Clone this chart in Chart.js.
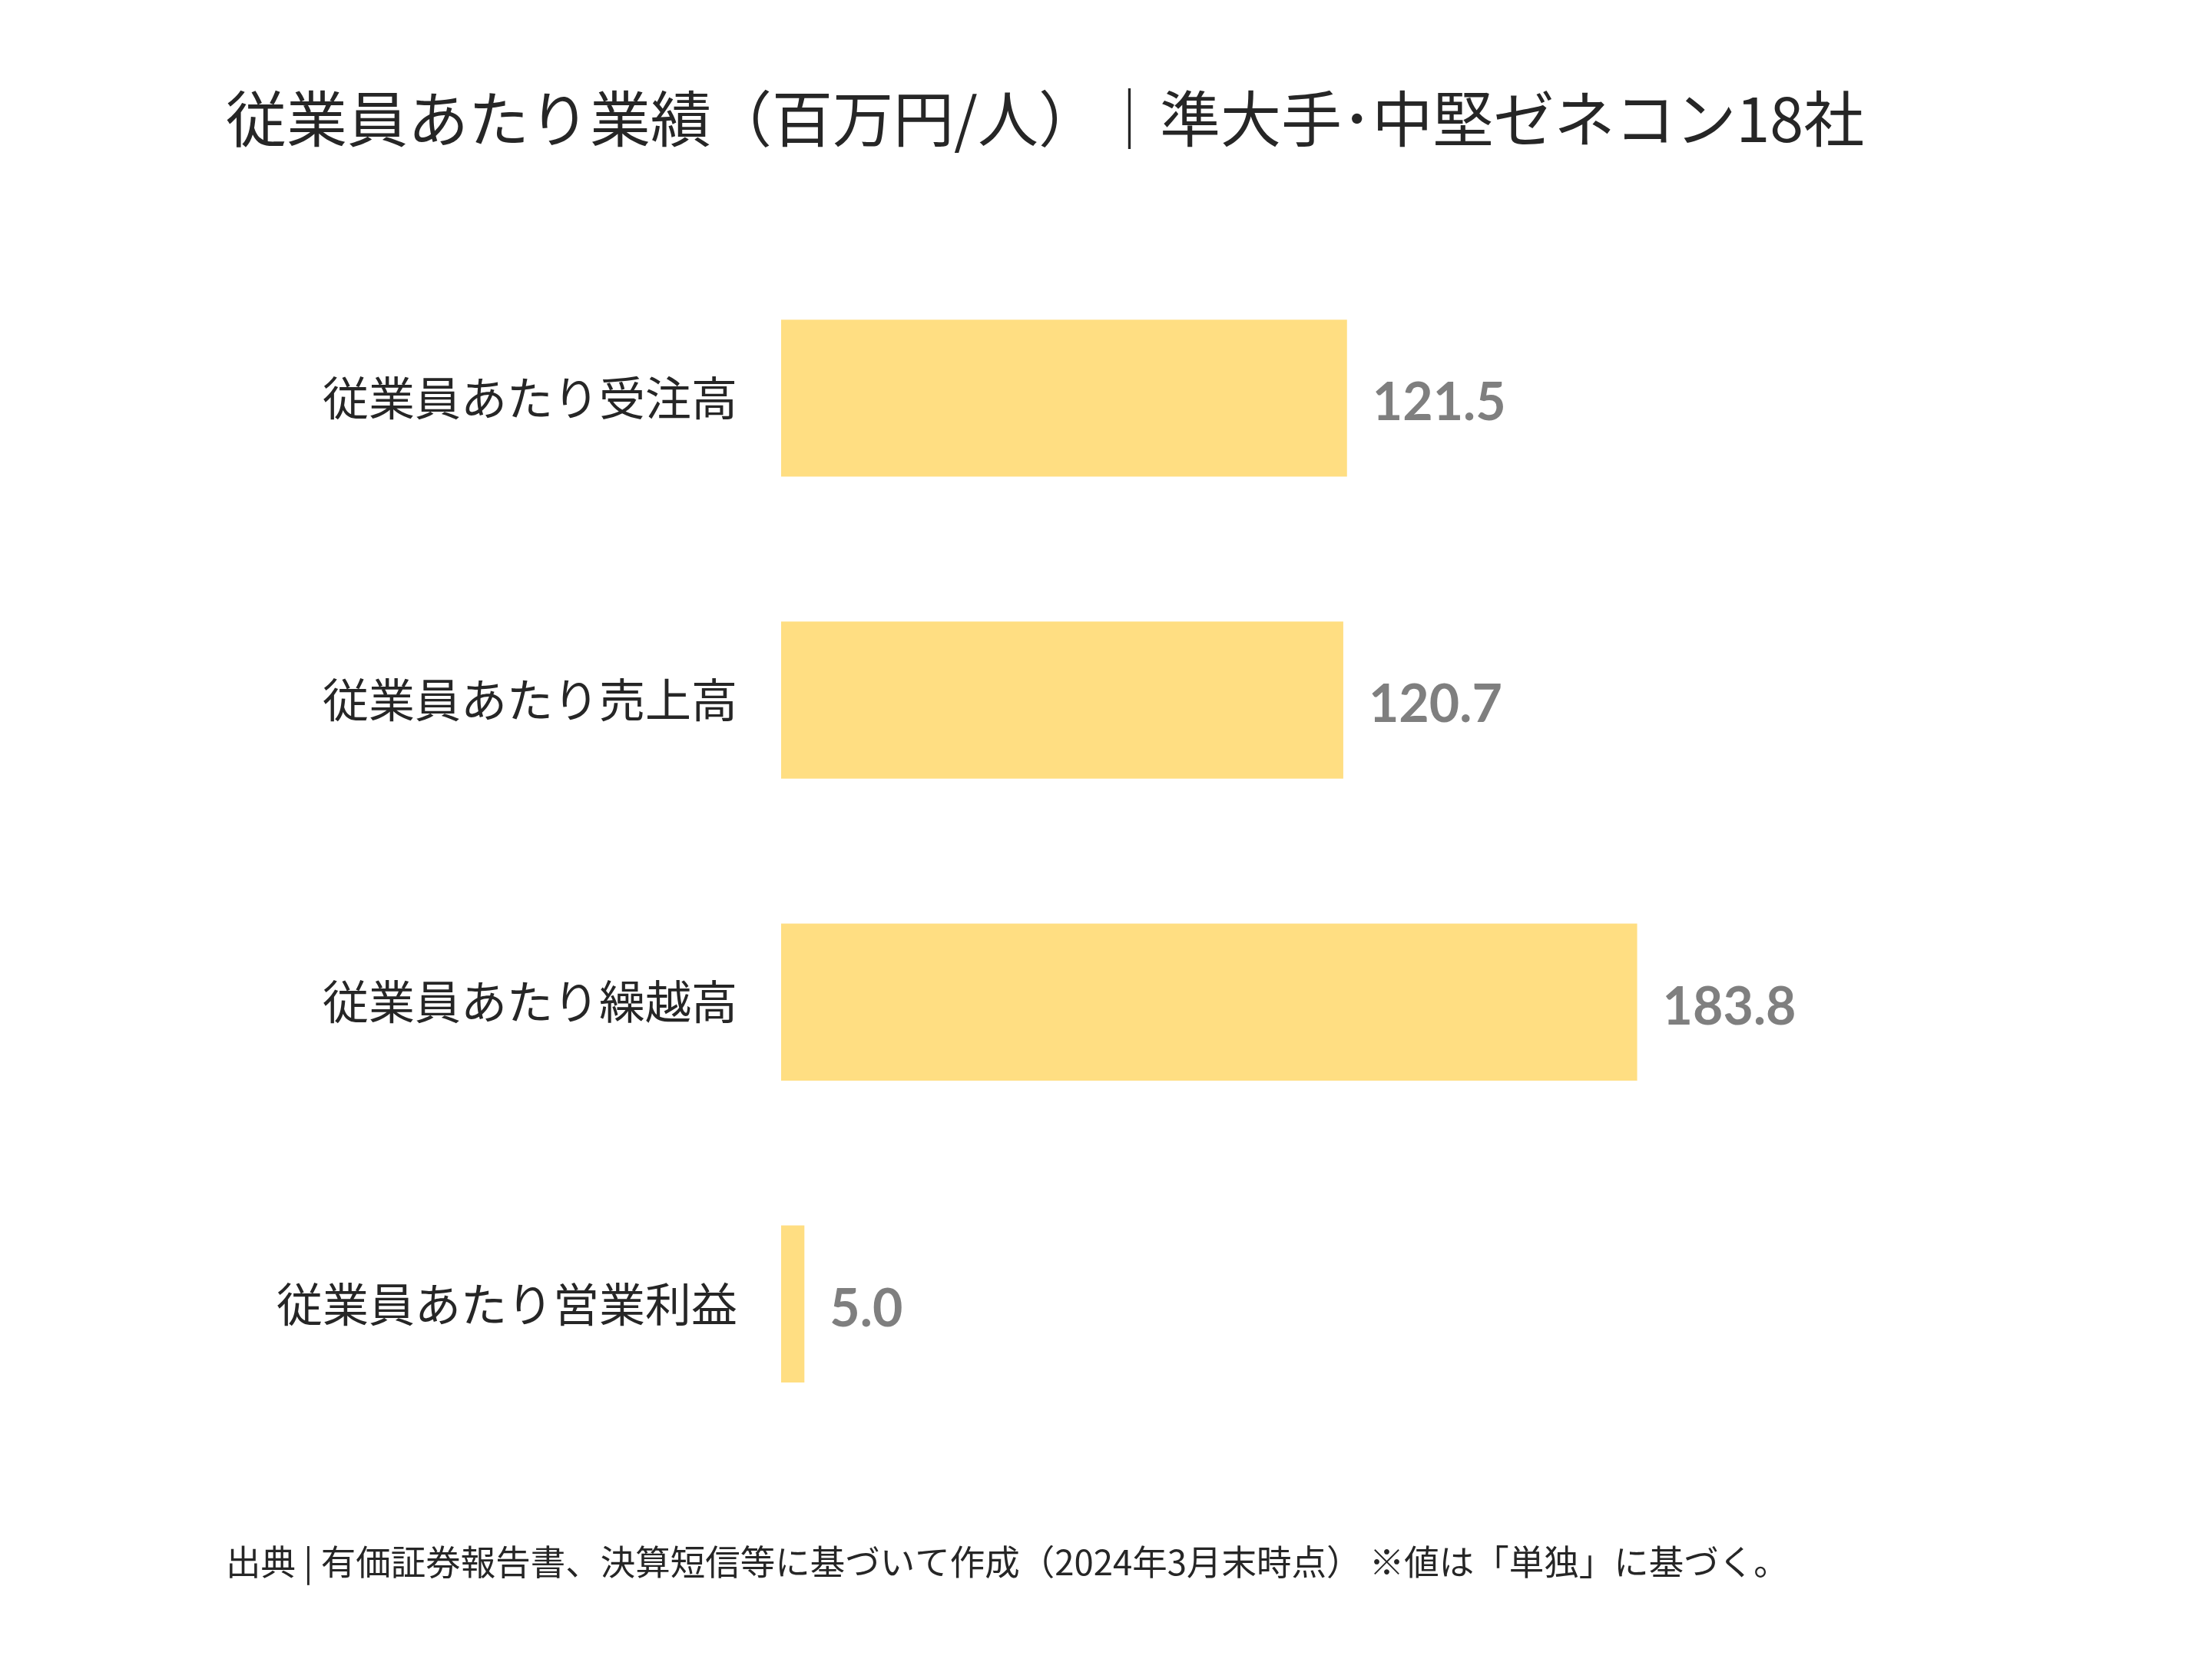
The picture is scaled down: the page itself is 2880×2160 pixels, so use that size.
<!DOCTYPE html>
<html lang="ja">
<head>
<meta charset="utf-8">
<title>従業員あたり業績</title>
<script src="https://cdn.jsdelivr.net/npm/chart.js@4/dist/chart.umd.min.js"></script>
<style>
  html, body { margin: 0; padding: 0; background: #ffffff; }
  #wrap { width: 2880px; height: 2160px; }
</style>
</head>
<body>
<div id="wrap"><canvas id="myChart" width="2880" height="2160"></canvas></div>
<script>
const categories = ['従業員あたり受注高', '従業員あたり売上高', '従業員あたり繰越高', '従業員あたり営業利益'];
const values = [121.5, 120.7, 183.8, 5.0];
const titleText = '従業員あたり業績（百万円/人）｜準大手･中堅ゼネコン18社';
const sourceText = '出典 | 有価証券報告書、決算短信等に基づいて作成（2024年3月末時点） ※値は「単独」に基づく。';

const jpFont = '"Noto Sans CJK JP", "Noto Sans", sans-serif';

// value labels at the end of each bar
const valueLabels = {
    id: 'valueLabels',
    afterDatasetsDraw(chart) {
        const ctx = chart.ctx;
        const meta = chart.getDatasetMeta(0);
        ctx.save();
        ctx.font = 'bold 68px Lato, "Open Sans", sans-serif';
        ctx.fillStyle = '#7f7f7f';
        ctx.textAlign = 'left';
        ctx.textBaseline = 'middle';
        meta.data.forEach((bar, i) => {
            ctx.fillText(values[i].toFixed(1), bar.x + 33, bar.y + 7);
        });
        ctx.restore();
    }
};

document.addEventListener('DOMContentLoaded', function() {
    const ctx = document.getElementById('myChart').getContext('2d');
    new Chart(ctx, {
        type: 'bar',
        data: {
            labels: categories,
            datasets: [{
                data: values,
                backgroundColor: '#ffde82',
                borderWidth: 0,
                categoryPercentage: 1.0,
                barPercentage: 0.52
            }]
        },
        options: {
            indexAxis: 'y',
            responsive: false,
            animation: false,
            devicePixelRatio: 1,
            layout: {
                padding: { left: 294, right: 347, top: 108, bottom: 99 }
            },
            plugins: {
                legend: { display: false },
                tooltip: { enabled: false },
                title: {
                    display: true,
                    text: titleText,
                    align: 'start',
                    color: '#262626',
                    font: { family: jpFont, size: 79, weight: 'normal', lineHeight: 1.2 },
                    padding: { top: 0, bottom: 119 }
                },
                subtitle: {
                    display: true,
                    position: 'bottom',
                    text: sourceText,
                    align: 'start',
                    color: '#262626',
                    font: { family: jpFont, size: 45.5, weight: 'normal', lineHeight: 1.2 },
                    padding: { top: 112, bottom: 0 }
                }
            },
            scales: {
                x: {
                    display: false,
                    min: 0,
                    max: 250
                },
                y: {
                    grid: { display: false, drawTicks: false },
                    border: { display: false },
                    ticks: {
                        color: '#262626',
                        padding: 57,
                        font: { family: jpFont, size: 60 }
                    },
                    afterFit(scale) {
                        scale.width = 723;
                    }
                }
            }
        },
        plugins: [valueLabels]
    });
});
</script>
</body>
</html>
